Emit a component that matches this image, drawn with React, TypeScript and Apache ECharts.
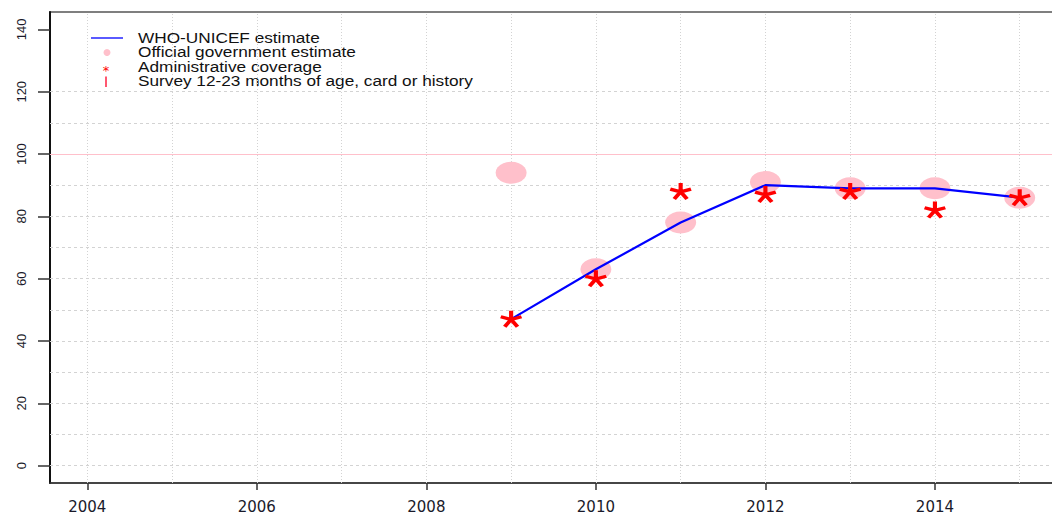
import React, { useEffect, useRef } from "react";
import * as echarts from "echarts";

const years = [2009, 2010, 2011, 2012, 2013, 2014, 2015];
const whoUnicef = [47, 63, 78, 90, 89, 89, 86];
const official = [94, 63, 78, 91, 89, 89, 86];
const admin = [47, 60, 88, 87, 88, 82, 86];

const yTicks = [0, 20, 40, 60, 80, 100, 120, 140];
const xTicks = [2004, 2006, 2008, 2010, 2012, 2014];
const gridYears = [2004, 2005, 2006, 2007, 2008, 2009, 2010, 2011, 2012, 2013, 2014, 2015];
const gridLevels = [0, 10, 20, 30, 40, 50, 60, 70, 80, 90, 110, 120];
const targetLevel = 100;

const legendLabels = [
  "WHO-UNICEF estimate",
  "Official government estimate",
  "Administrative coverage",
  "Survey 12-23 months of age, card or history",
];

function asteriskPath(): string {
  const angles = [-90, -18, 54, 126, 198];
  const t = 0.38;
  const parts: string[] = [];
  for (const a of angles) {
    const r = (a * Math.PI) / 180;
    const dx = Math.cos(r), dy = Math.sin(r);
    const nx = -dy, ny = dx;
    const p = [
      [nx * t / 2, ny * t / 2],
      [dx + nx * t / 2, dy + ny * t / 2],
      [dx - nx * t / 2, dy - ny * t / 2],
      [-nx * t / 2, -ny * t / 2],
    ];
    parts.push(
      "M" + p.map((q) => q[0].toFixed(3) + " " + q[1].toFixed(3)).join(" L") + " Z"
    );
  }
  return "path://" + parts.join(" ");
}

export default function App() {
  const ref = useRef<HTMLDivElement>(null);
  useEffect(() => {
    document.body.style.margin = "0";
    document.body.style.overflow = "hidden";
    const chart = echarts.init(ref.current!, undefined, { renderer: "svg" });
    const star = asteriskPath();
    const font = "DejaVu Sans";
    const legendFont = "Liberation Sans";
    chart.setOption({
      animation: false,
      backgroundColor: "#ffffff",
      grid: {
        left: 50,
        top: 12,
        right: 3,
        bottom: 31,
        show: true,
        borderColor: "#555555",
        borderWidth: 1.5,
        containLabel: false,
      },
      xAxis: {
        type: "value",
        min: 2003.56,
        max: 2015.44,
        axisLine: { show: true, onZero: false, lineStyle: { color: "#333333", width: 1.5 } },
        axisTick: { show: true, customValues: xTicks, length: 7, lineStyle: { color: "#333333", width: 1.5 } },
        axisLabel: {
          customValues: xTicks,
          margin: 16,
          color: "#1a1a2a",
          fontFamily: font,
          fontSize: 15,
          formatter: (v: number) => String(v),
        },
        splitLine: { show: false },
      },
      yAxis: {
        type: "value",
        min: -5.6,
        max: 145.6,
        axisLine: { show: true, onZero: false, lineStyle: { color: "#111111", width: 2 } },
        axisTick: { show: true, customValues: yTicks, length: 12, lineStyle: { color: "#333333", width: 1.5 } },
        axisLabel: {
          customValues: yTicks,
          rotate: 90,
          margin: 22,
          color: "#1a1a2a",
          fontFamily: legendFont,
          fontSize: 13,
          formatter: (v: number) => String(v),
        },
        splitLine: { show: false },
      },
      series: [
        {
          name: "Official government estimate",
          type: "scatter",
          z: 2,
          symbol: "circle",
          symbolSize: [31, 22],
          itemStyle: { color: "#ffc0cb", opacity: 1 },
          data: years.map((y, i) => [y, official[i]]),
          markLine: {
            silent: true,
            symbol: ["none", "none"],
            label: { show: false },
            z: 1,
            data: [
              ...gridYears.map((y) => ({
                xAxis: y,
                lineStyle: { color: "#d3d3d3", type: [1, 2], width: 1 },
              })),
              ...gridLevels.map((v) => ({
                yAxis: v,
                lineStyle: { color: "#d3d3d3", type: [3, 3], width: 1 },
              })),
              { yAxis: targetLevel, lineStyle: { color: "#ffc0cb", type: "solid", width: 1.2 } },
            ],
          },
        },
        {
          name: "WHO-UNICEF estimate",
          type: "line",
          z: 3,
          symbol: "none",
          lineStyle: { color: "#0000ff", width: 2.2 },
          data: years.map((y, i) => [y, whoUnicef[i]]),
        },
        {
          name: "Administrative coverage",
          type: "scatter",
          z: 4,
          symbol: star,
          symbolSize: [22, 17],
          itemStyle: { color: "#ff0000", opacity: 1 },
          data: years.map((y, i) => [y, admin[i]]),
        },
      ],
      graphic: [
        { type: "line", shape: { x1: 91, y1: 38, x2: 123, y2: 38 }, style: { stroke: "#0000ff", lineWidth: 1.3 } },
        { type: "circle", shape: { cx: 107, cy: 52.5, r: 3.5 }, style: { fill: "#ffc0cb" } },
        {
          type: "text",
          x: 106,
          y: 70,
          style: { text: "*", fill: "#ff0000", font: "13px " + font, align: "center", verticalAlign: "middle" },
        },
        { type: "line", shape: { x1: 106, y1: 76.5, x2: 106, y2: 87 }, style: { stroke: "#ff2040", lineWidth: 1.5 } },
        ...legendLabels.map((t, i) => ({
          type: "text",
          x: 138,
          y: 38 + i * 14.5,
          scaleX: 1.23,
          style: {
            text: t,
            fill: "#111111",
            font: "14px " + legendFont,
            align: "left",
            verticalAlign: "middle",
          },
        })),
      ],
    });
    return () => chart.dispose();
  }, []);
  return <div ref={ref} style={{ width: 1060, height: 514 }} />;
}
